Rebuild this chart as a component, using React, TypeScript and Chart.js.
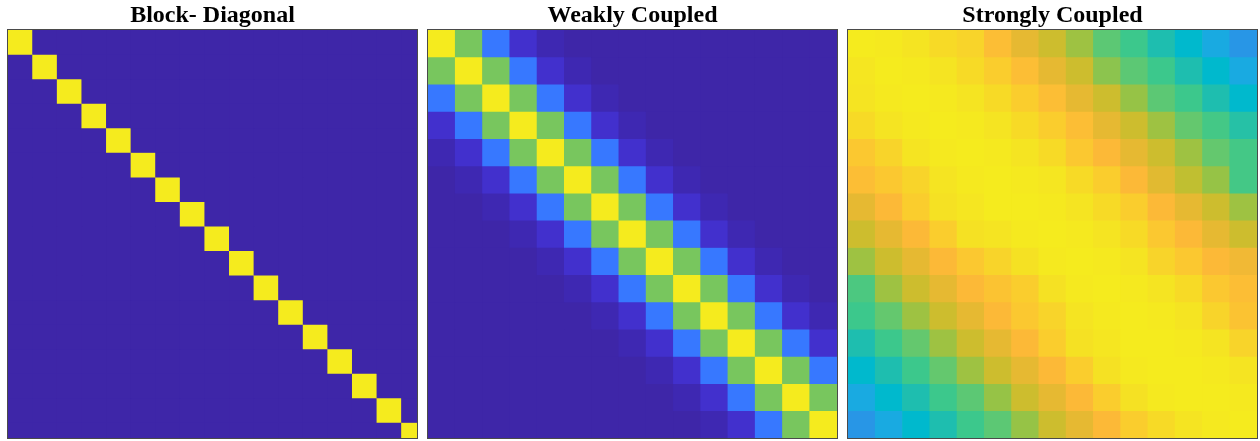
import React, { useEffect, useRef } from "react";
import { Chart, registerables } from "chart.js";

Chart.register(...registerables);

// ---------- data ----------
const panelTitles = ["Block- Diagonal", "Weakly Coupled", "Strongly Coupled"];

// Block-diagonal: 17 diagonal cells (last one partially visible), zero elsewhere
const blockDiagonal = [1, 1, 1, 1, 1, 1, 1, 1, 1, 1, 1, 1, 1, 1, 1, 1, 1];
const blockOffDiagonal = 0;
const blockAxisMax = 16.13;

// Weakly coupled: value by distance from the diagonal |row - col|
const weakBand = [1.0, 0.7, 0.33, 0.1, 0.03];
const weakSize = 15;
const weakAxisMax = 14.5;

// Strongly coupled: 15 x 15 values
const strongRows = [
  [1.0, 0.99, 0.97, 0.95, 0.94, 0.9, 0.85, 0.8, 0.74, 0.67, 0.63, 0.59, 0.55, 0.5, 0.45],
  [0.98, 1.0, 0.99, 0.97, 0.95, 0.93, 0.9, 0.85, 0.8, 0.72, 0.67, 0.63, 0.59, 0.55, 0.5],
  [0.97, 0.99, 1.0, 0.99, 0.97, 0.95, 0.93, 0.9, 0.85, 0.8, 0.73, 0.67, 0.63, 0.59, 0.55],
  [0.95, 0.97, 0.99, 1.0, 0.99, 0.97, 0.95, 0.93, 0.9, 0.85, 0.8, 0.74, 0.68, 0.64, 0.6],
  [0.92, 0.94, 0.97, 0.99, 1.0, 0.99, 0.97, 0.95, 0.92, 0.89, 0.85, 0.8, 0.74, 0.68, 0.64],
  [0.9, 0.92, 0.94, 0.97, 0.99, 1.0, 0.99, 0.98, 0.95, 0.93, 0.89, 0.84, 0.78, 0.73, 0.64],
  [0.85, 0.89, 0.93, 0.96, 0.98, 1.0, 1.0, 0.99, 0.97, 0.95, 0.93, 0.89, 0.85, 0.8, 0.74],
  [0.8, 0.85, 0.89, 0.93, 0.96, 0.97, 0.99, 1.0, 0.99, 0.97, 0.95, 0.92, 0.89, 0.85, 0.8],
  [0.74, 0.8, 0.85, 0.89, 0.92, 0.94, 0.96, 0.99, 1.0, 0.99, 0.97, 0.94, 0.92, 0.89, 0.87],
  [0.65, 0.74, 0.8, 0.85, 0.89, 0.91, 0.93, 0.96, 0.99, 1.0, 0.99, 0.97, 0.95, 0.92, 0.9],
  [0.63, 0.68, 0.74, 0.8, 0.85, 0.89, 0.92, 0.94, 0.97, 0.99, 1.0, 0.99, 0.97, 0.94, 0.91],
  [0.59, 0.63, 0.68, 0.74, 0.8, 0.85, 0.89, 0.93, 0.96, 0.98, 1.0, 1.0, 0.99, 0.97, 0.94],
  [0.55, 0.59, 0.63, 0.68, 0.74, 0.8, 0.85, 0.89, 0.93, 0.96, 0.99, 1.0, 1.0, 0.99, 0.97],
  [0.5, 0.55, 0.59, 0.63, 0.67, 0.73, 0.8, 0.85, 0.89, 0.93, 0.96, 0.99, 1.0, 1.0, 0.99],
  [0.45, 0.5, 0.55, 0.59, 0.63, 0.67, 0.73, 0.8, 0.85, 0.89, 0.93, 0.95, 0.97, 0.99, 1.0],
];
const strongAxisMax = 14.5;

// ---------- colour map (parula-like) ----------
const colorStops: [number, number, number, number][] = [
  [0.0, 62, 38, 168],
  [0.03, 62, 40, 178],
  [0.1, 66, 48, 205],
  [0.2, 68, 80, 240],
  [0.33, 55, 120, 255],
  [0.45, 40, 150, 230],
  [0.5, 25, 170, 225],
  [0.55, 0, 185, 205],
  [0.59, 30, 190, 175],
  [0.63, 60, 200, 140],
  [0.68, 100, 200, 110],
  [0.73, 150, 195, 70],
  [0.79, 200, 190, 45],
  [0.85, 230, 185, 50],
  [0.89, 252, 185, 55],
  [0.93, 250, 205, 45],
  [0.96, 245, 225, 35],
  [1.0, 245, 235, 30],
];

function colormap(v: number): string {
  if (v <= colorStops[0][0]) {
    const s = colorStops[0];
    return `rgb(${s[1]},${s[2]},${s[3]})`;
  }
  for (let i = 1; i < colorStops.length; i++) {
    const b = colorStops[i];
    if (v <= b[0]) {
      const a = colorStops[i - 1];
      const t = (v - a[0]) / (b[0] - a[0]);
      const r = Math.round(a[1] + (b[1] - a[1]) * t);
      const g = Math.round(a[2] + (b[2] - a[2]) * t);
      const bl = Math.round(a[3] + (b[3] - a[3]) * t);
      return `rgb(${r},${g},${bl})`;
    }
  }
  const s = colorStops[colorStops.length - 1];
  return `rgb(${s[1]},${s[2]},${s[3]})`;
}

// ---------- matrices built from the arrays ----------
const blockMatrix: number[][] = blockDiagonal.map((d, i) =>
  blockDiagonal.map((_, j) => (i === j ? d : blockOffDiagonal))
);
const weakMatrix: number[][] = [];
for (let i = 0; i < weakSize; i++) {
  const row: number[] = [];
  for (let j = 0; j < weakSize; j++) {
    const k = Math.abs(i - j);
    row.push(k < weakBand.length ? weakBand[k] : 0);
  }
  weakMatrix.push(row);
}

const panels = [
  { title: panelTitles[0], matrix: blockMatrix, axisMax: blockAxisMax, underlay: 0 },
  { title: panelTitles[1], matrix: weakMatrix, axisMax: weakAxisMax, underlay: 0 },
  { title: panelTitles[2], matrix: strongRows, axisMax: strongAxisMax, underlay: 0.96 },
];

const framePlugin = {
  id: "frame",
  beforeDatasetsDraw(chart: any) {
    const { ctx, chartArea: a } = chart;
    const u = chart.options.plugins.frame?.underlay ?? 0;
    ctx.save();
    ctx.fillStyle = colormap(u);
    ctx.fillRect(a.left, a.top, a.right - a.left, a.bottom - a.top);
    ctx.restore();
  },
  afterDraw(chart: any) {
    const { ctx, chartArea: a } = chart;
    const l = Math.round(a.left);
    const t = Math.round(a.top);
    const r = Math.round(a.right);
    const b = Math.round(a.bottom);
    ctx.save();
    ctx.strokeStyle = "#4a4a4a";
    ctx.lineWidth = 1;
    ctx.strokeRect(l - 0.5, t - 0.5, r - l + 1, b - t + 1);
    ctx.restore();
  },
};

function Heatmap({
  title,
  matrix,
  axisMax,
  underlay,
}: {
  title: string;
  matrix: number[][];
  axisMax: number;
  underlay: number;
}) {
  const ref = useRef<HTMLCanvasElement | null>(null);
  useEffect(() => {
    if (!ref.current) return;
    const datasets = matrix.map((row, r) => ({
      data: row.map((_, c) => ({ x: c, y: [r - 0.5, r + 0.5] })),
      backgroundColor: row.map((v) => colormap(v)),
      borderWidth: 0,
      grouped: false,
      barPercentage: 1,
      categoryPercentage: 1,
    }));
    const chart = new Chart(ref.current, {
      type: "bar",
      data: { datasets: datasets as any },
      options: {
        responsive: false,
        animation: false,
        events: [],
        layout: { padding: { left: 1, right: 1, top: 1, bottom: 3 } },
        plugins: {
          legend: { display: false },
          tooltip: { enabled: false },
          frame: { underlay },
          title: {
            display: true,
            text: title,
            color: "#000",
            font: { family: '"Liberation Serif", "Times New Roman", serif', size: 24, weight: "bold" },
            padding: { top: 0, bottom: 0 },
          },
        },
        scales: {
          x: {
            type: "linear",
            display: false,
            offset: false,
            min: -0.5,
            max: axisMax,
            ticks: { stepSize: 1, includeBounds: false },
          },
          y: {
            type: "linear",
            display: false,
            reverse: true,
            offset: false,
            min: -0.5,
            max: axisMax,
            ticks: { stepSize: 1, includeBounds: false },
          },
        },
      } as any,
      plugins: [framePlugin],
    });
    return () => chart.destroy();
  }, [title, matrix, axisMax, underlay]);
  return <canvas ref={ref} width={411} height={441} style={{ display: "block" }} />;
}

export default function App() {
  return (
    <div style={{ position: "absolute", left: 0, top: 0, width: 1260, height: 441, background: "#fff" }}>
      {panels.map((p, i) => (
        <div key={i} style={{ position: "absolute", left: 7 + i * 420, top: 0, width: 411, height: 441 }}>
          <Heatmap title={p.title} matrix={p.matrix} axisMax={p.axisMax} underlay={p.underlay} />
        </div>
      ))}
    </div>
  );
}
